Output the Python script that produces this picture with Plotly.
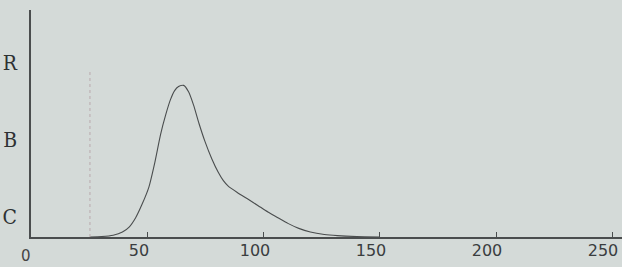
import plotly.graph_objects as go

# Curve (x value, relative height)
curve_x = [25, 30, 35, 39, 42, 44.7, 47.5, 50.4, 53, 55.4, 57.7, 59.7, 61.5, 63.2, 65.4, 67.5, 69.7,
           72, 74.6, 77.5, 80.3, 82.5, 84.6, 88.5, 93.2, 97.5, 101.7, 106, 110.3, 115, 120, 126, 131.6, 140, 150]
curve_y = [0.0, 0.002, 0.008, 0.022, 0.045, 0.085, 0.145, 0.22, 0.33, 0.45, 0.54, 0.605, 0.645, 0.663, 0.668, 0.64, 0.58,
           0.5, 0.42, 0.345, 0.285, 0.248, 0.224, 0.196, 0.166, 0.138, 0.11, 0.085, 0.06, 0.038, 0.022, 0.011, 0.006, 0.002, 0.0]

marker_x = 25  # vertical dotted guide

x_ticks = [50, 100, 150, 200, 250]
x_ticktext = ["50", "100", "150", "200", "250"]
y_ticks = [0.09, 0.43, 0.77]
y_ticktext = ["C", "B", "R"]

bg = "#d4dad8"
ink = "#4a4d4e"

fig = go.Figure()
fig.add_trace(go.Scatter(x=curve_x, y=curve_y, mode="lines", line=dict(color=ink, width=1.1, shape="spline", smoothing=0.6),
                         hoverinfo="skip", showlegend=False))
fig.add_shape(type="line", x0=marker_x, x1=marker_x, y0=0, y1=0.74, xref="x", yref="y",
              line=dict(color="#b9a9ad", width=1, dash="dot"))

fig.add_annotation(text="0", x=0, y=0, xref="paper", yref="paper", xshift=-12, yshift=-30,
                   showarrow=False, font=dict(family="DejaVu Sans", size=15, color="#444"))

fig.update_layout(
    width=622, height=267,
    margin=dict(l=31, r=0, t=10, b=30, autoexpand=False),
    paper_bgcolor=bg, plot_bgcolor=bg,
    font=dict(family="DejaVu Sans", color="#3a3d3f"),
    xaxis=dict(range=[-0.4, 254.3], showgrid=False, zeroline=False, showline=True, linecolor=ink, linewidth=1.5,
               tickvals=x_ticks, ticktext=x_ticktext, ticks="inside", ticklen=5, tickcolor=ink, automargin=False,
               tickfont=dict(size=16, family="DejaVu Sans", color="#3a3d3f"), ticklabelshift=-9, ticklabelstandoff=-2,
               ticklabeloverflow="allow"),
    yaxis=dict(range=[0, 1], showgrid=False, zeroline=False, showline=True, linecolor=ink, linewidth=1.5,
               tickvals=y_ticks, ticktext=y_ticktext, ticks="", ticklabelstandoff=8, automargin=False,
               tickfont=dict(size=21, family="DejaVu Serif Condensed, Liberation Serif", color="#2e3133")),
)

fig.write_html("out.html", config={"displayModeBar": False},
               post_script="document.body.style.margin='0';document.body.style.background='%s';" % bg)
